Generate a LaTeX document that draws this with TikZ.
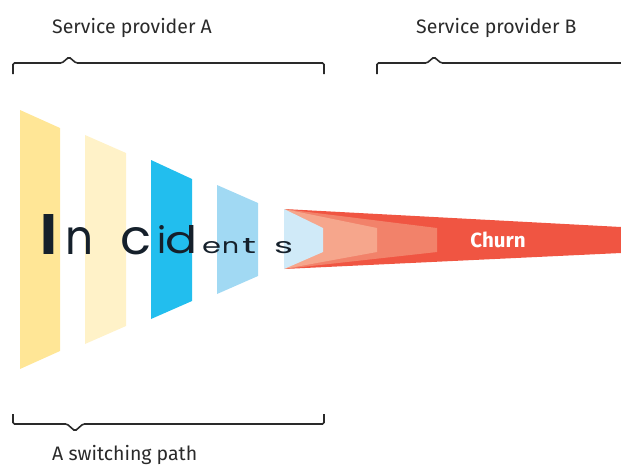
\documentclass[tikz,border=0pt]{standalone}
\usepackage{graphicx}
\usepackage{fontspec}
\setmainfont{Fira Sans}
\newfontfamily\popfont{Poppins}
\definecolor{yelA}{HTML}{FFE696}
\definecolor{yelB}{HTML}{FFF2C8}
\definecolor{bluA}{HTML}{22BEEE}
\definecolor{bluB}{HTML}{A1D9F3}
\definecolor{redA}{HTML}{F05542}
\definecolor{salB}{HTML}{F2826A}
\definecolor{salA}{HTML}{F6A68C}
\definecolor{lblue}{HTML}{D0EAF8}
\definecolor{inkcol}{HTML}{15202B}
\definecolor{labelcol}{HTML}{2A2A2A}
\begin{document}
\begin{tikzpicture}[x=1pt,y=-1pt,
  brace/.style={line width=1.6pt, draw=labelcol, rounded corners=1.5pt},
  lbl/.style={anchor=base west, inner sep=0, font=\fontsize{19.5}{22}\selectfont, text=labelcol},
  letter/.style={anchor=base, inner sep=0, text=inkcol, font=\popfont}]
\useasboundingbox (0,0) rectangle (621,464);
% panels
\fill[yelA] (20,110) -- (60,128) -- (60,351) -- (20,369) -- cycle;
\fill[yelB] (85,135) -- (126,153) -- (126,326) -- (85,344) -- cycle;
\fill[bluA] (151,160) -- (192,179) -- (192,301) -- (151,319) -- cycle;
\fill[bluB] (217,185) -- (258,203) -- (258,276) -- (217,294) -- cycle;
% funnel
\fill[redA] (284,209) -- (621,227) -- (621,253) -- (284,269) -- cycle;
\fill[salB] (284,209) -- (437,228) -- (437,252) -- (284,269) -- cycle;
\fill[salA] (284,209) -- (377,228) -- (377,252) -- (284,269) -- cycle;
\fill[lblue] (284,209) -- (323,228) -- (323,252) -- (284,269) -- cycle;
\node[font=\bfseries\fontsize{20.5}{24}\selectfont, text=white, inner sep=0] (churn) at (498,240) {Churn};
% Incidents
\node[letter] (lI) at (48.7,254.5) {\resizebox{!}{40pt}{\bfseries I}};
\node[letter] (ln) at (79.2,254.5) {\resizebox{28pt}{27pt}{n}};
\node[letter] (lc) at (135.8,254.5) {\resizebox{31pt}{27pt}{c}};
\node[letter] (li) at (162.5,253.5) {\resizebox{!}{28pt}{i}};
\node[letter] (ld) at (182,253.5) {\resizebox{32pt}{28pt}{d}};
\node[letter] (le) at (211.5,253.5) {\resizebox{19pt}{12pt}{e}};
\node[letter] (lnn) at (230.5,253.5) {\resizebox{17pt}{12pt}{n}};
\node[letter] (lt) at (249,253.5) {\resizebox{14pt}{15pt}{t}};
\node[letter] (ls) at (283.5,253.5) {\resizebox{19pt}{12pt}{s}};
% braces
\draw[brace] (13,74) -- (13,63) -- (62,63) -- (69,57) -- (76,63) -- (324,63) -- (324,74);
\draw[brace] (377,74) -- (377,63) -- (427,63) -- (434,57) -- (441,63) -- (630,63);
\draw[brace] (13,414) -- (13,424) -- (67,424) -- (75,431) -- (83,424) -- (324,424) -- (324,414);
% labels
\node[lbl] (spA) at (52,33) {Service provider A};
\node[lbl] (spB) at (416,33) {Service provider B};
\node[lbl] (sw) at (52,460) {A switching path};
\end{tikzpicture}
\end{document}
